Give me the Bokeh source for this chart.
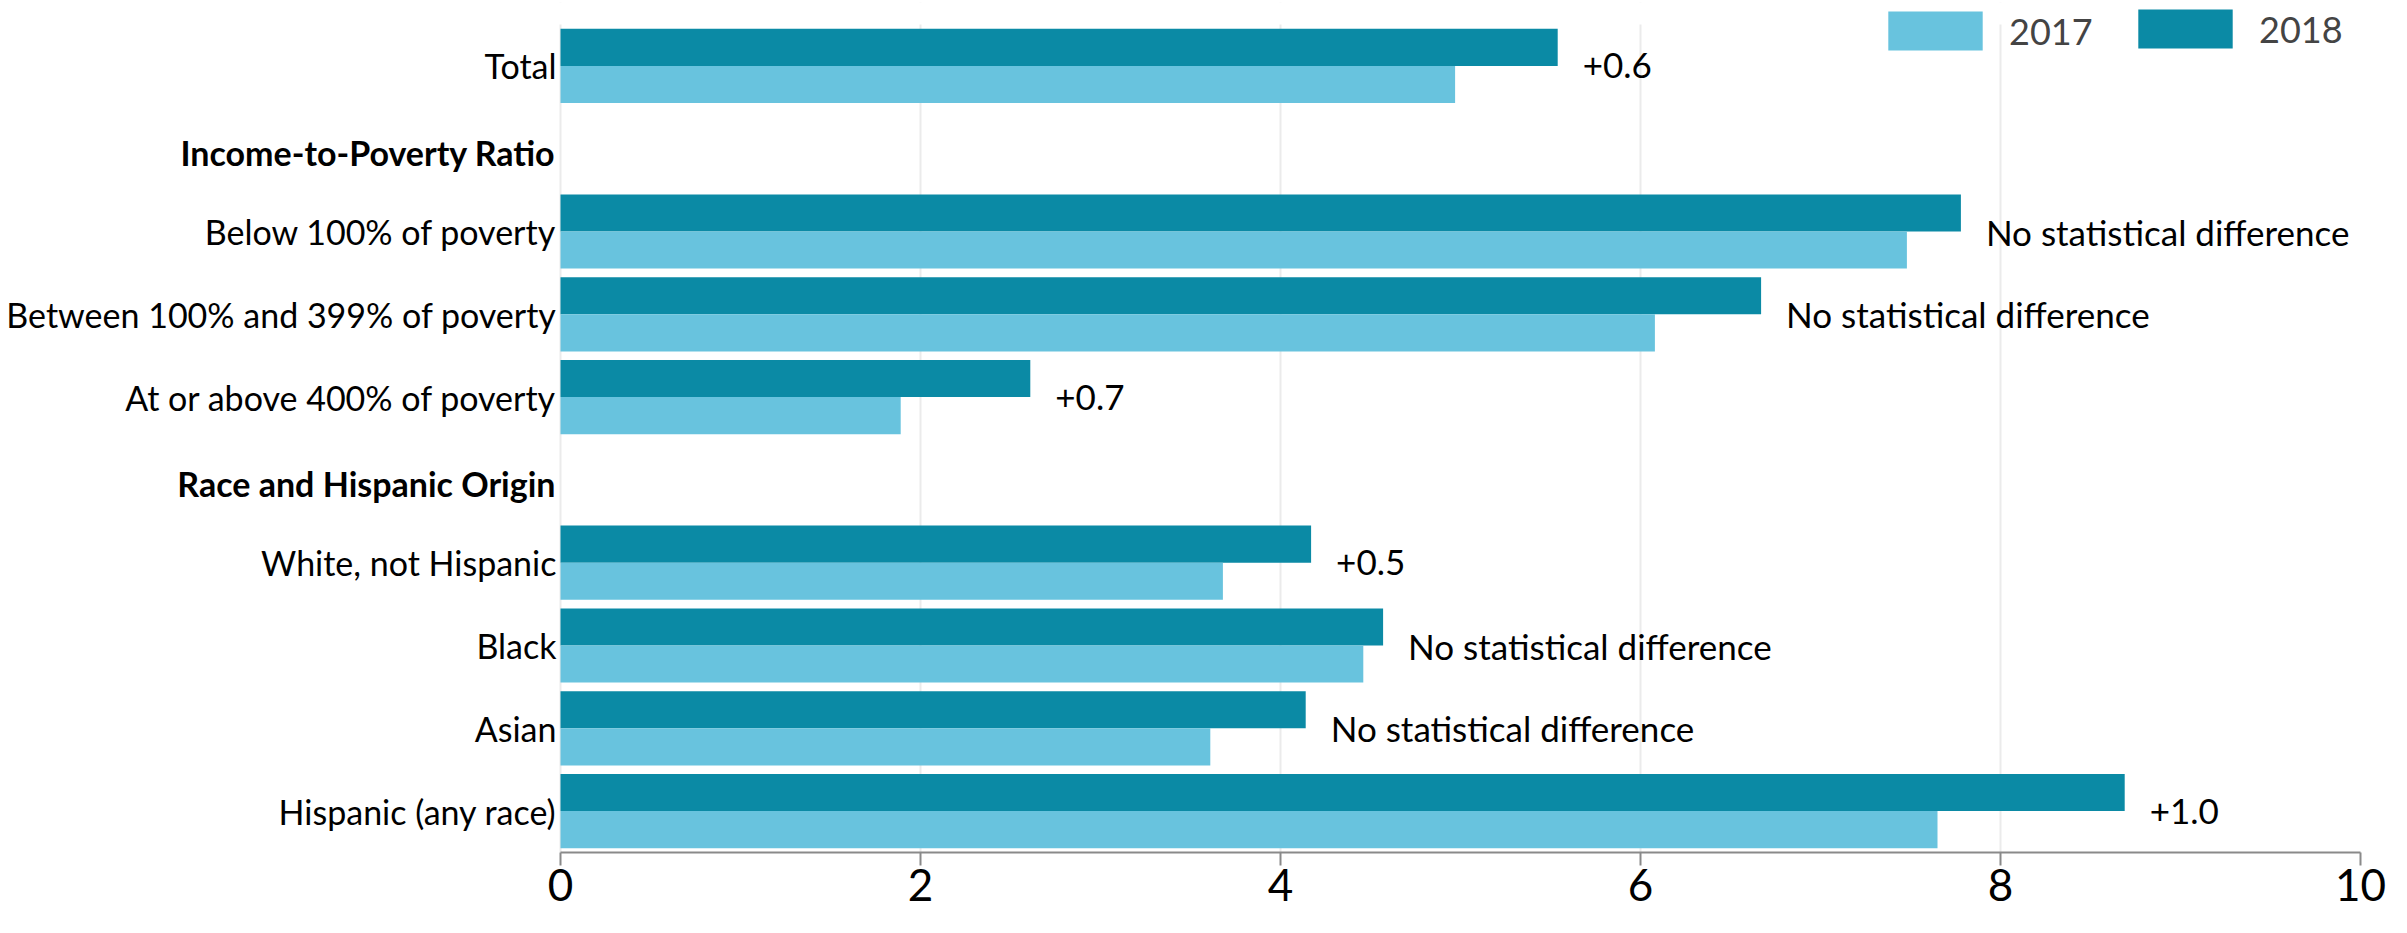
from bokeh.plotting import figure
from bokeh.models import (Range1d, FixedTicker, Legend, LegendItem,
                          Label, ColumnDataSource, BoxAnnotation)
from bokeh.transform import dodge
from bokeh.core.properties import value
from bokeh.embed import file_html
from bokeh.resources import INLINE

# ---------------- data ----------------
categories = ["Total",
              "Income-to-Poverty Ratio",
              "Below 100% of poverty",
              "Between 100% and 399% of poverty",
              "At or above 400% of poverty",
              "Race and Hispanic Origin",
              "White, not Hispanic",
              "Black",
              "Asian",
              "Hispanic (any race)"]
headers = ["Income-to-Poverty Ratio", "Race and Hispanic Origin"]
groups = ["Total",
          "Below 100% of poverty",
          "Between 100% and 399% of poverty",
          "At or above 400% of poverty",
          "White, not Hispanic",
          "Black",
          "Asian",
          "Hispanic (any race)"]
values_2017 = [4.97, 7.48, 6.08, 1.89, 3.68, 4.46, 3.61, 7.65]
values_2018 = [5.54, 7.78, 6.67, 2.61, 4.17, 4.57, 4.14, 8.69]
change_labels = ["+0.6", "No statistical difference", "No statistical difference",
                 "+0.7", "+0.5", "No statistical difference",
                 "No statistical difference", "+1.0"]
x_ticks = [0, 2, 4, 6, 8, 10]
series_names = ["2017", "2018"]

# ---------------- layout / style ----------------
FONT = "Lato"
LIGHT = "#68C3DE"
DARK = "#0B8AA5"
W, H = 2407, 929
PLOT_LEFT_PX = 560          # where x = 0 sits
PLOT_RIGHT_PX = 2360        # where x = 10 sits
ROW_TOP_PX = 24             # top edge of the first row
FRAME_TOP_PX = 2
FRAME_BOTTOM_PX = 852

n = len(categories)
x_max = x_ticks[-1]
px_per_unit = (PLOT_RIGHT_PX - PLOT_LEFT_PX) / x_max
x_min = -PLOT_LEFT_PX / px_per_unit                  # room for the row labels
row_px = (FRAME_BOTTOM_PX - ROW_TOP_PX) / n
y_top = -0.5 - (ROW_TOP_PX - FRAME_TOP_PX) / row_px   # room for the legend

row = {c: i for i, c in enumerate(categories)}
src = ColumnDataSource(dict(cat=groups, y=[row[g] for g in groups],
                            v2017=values_2017, v2018=values_2018,
                            lab=change_labels))

p = figure(width=W, height=H,
           y_range=Range1d(n - 0.5, y_top),
           x_range=Range1d(x_min, x_max),
           output_backend="svg", toolbar_location=None,
           min_border_left=0, min_border_right=W - PLOT_RIGHT_PX,
           min_border_top=FRAME_TOP_PX, min_border_bottom=H - FRAME_BOTTOM_PX)

# keep the grid lines from running above the first row (legend strip)
p.add_layout(BoxAnnotation(top=y_top, bottom=-0.5, fill_color="white",
                           fill_alpha=1, line_color=None, level="underlay"))

bar_h = 0.448
r18 = p.hbar(y=dodge("y", -bar_h / 2), left=0, right="v2018",
             height=bar_h, fill_color=DARK, line_color=None, source=src)
r17 = p.hbar(y=dodge("y", bar_h / 2), left=0, right="v2017",
             height=bar_h, fill_color=LIGHT, line_color=None, source=src)

p.text(x="v2018", y="y", text="lab", source=src, x_offset=25,
       text_align="left", text_baseline="middle",
       text_font=value(FONT), text_font_size="35px", text_color="black")

# x axis
xt = FixedTicker(ticks=x_ticks)
p.xaxis.ticker = xt
p.xgrid.ticker = xt
p.xaxis.bounds = (x_ticks[0], x_ticks[-1])
p.xaxis.major_label_text_font = FONT
p.xaxis.major_label_text_font_size = "44px"
p.xaxis.major_label_text_color = "black"
p.xaxis.axis_line_color = "#8a8a8a"
p.xaxis.axis_line_width = 2
p.xaxis.major_tick_line_color = "#8a8a8a"
p.xaxis.major_tick_line_width = 2
p.xaxis.major_tick_out = 13
p.xaxis.major_tick_in = 0
p.xaxis.minor_tick_line_color = None
p.xaxis.major_label_standoff = 3

# y axis sits at x = 0; category names as tick labels, headers drawn in bold
p.yaxis.fixed_location = 0
p.yaxis.ticker = FixedTicker(ticks=list(range(n)))
p.yaxis.major_label_overrides = {i: ("" if c in headers else c)
                                 for i, c in enumerate(categories)}
p.yaxis.major_label_text_font = FONT
p.yaxis.major_label_text_font_size = "34px"
p.yaxis.major_label_text_color = "black"
p.yaxis.axis_line_color = None
p.yaxis.major_tick_line_color = None
p.yaxis.minor_tick_line_color = None
p.yaxis.major_tick_out = 0
p.yaxis.major_tick_in = 0
p.yaxis.major_label_standoff = 4

p.xgrid.grid_line_color = "#ebebeb"
p.xgrid.grid_line_width = 2
p.ygrid.grid_line_color = None
p.outline_line_color = None

for h in headers:
    p.add_layout(Label(x=0, y=row[h], x_offset=-5, y_offset=-4, text=h,
                       text_align="right", text_baseline="middle",
                       text_font=FONT, text_font_size="34px",
                       text_font_style="bold", text_color="black"))

# legend swatches are drawn inset by 10% of the glyph box
legend_common = dict(glyph_width=118, glyph_height=49, label_standoff=15,
                     padding=0, margin=0, border_line_color=None,
                     background_fill_alpha=0, label_text_font=FONT,
                     label_text_font_size="36px", label_height=49)
p.add_layout(Legend(items=[LegendItem(label=series_names[0], renderers=[r17])],
                    location=(1876, FRAME_BOTTOM_PX - 55), **legend_common), "center")
p.add_layout(Legend(items=[LegendItem(label=series_names[1], renderers=[r18])],
                    location=(2126, FRAME_BOTTOM_PX - 53), **legend_common), "center")

open("out.html", "w").write(file_html(p, INLINE))
